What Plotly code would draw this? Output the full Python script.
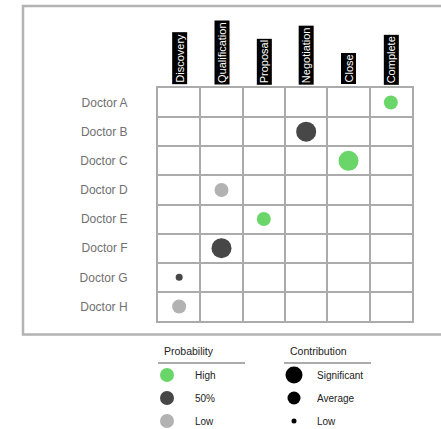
import plotly.graph_objects as go

# ---- data -------------------------------------------------------------
stages = ["Discovery", "Qualification", "Proposal", "Negotiation", "Close", "Complete"]
doctors = ["Doctor A", "Doctor B", "Doctor C", "Doctor D",
           "Doctor E", "Doctor F", "Doctor G", "Doctor H"]
doctor_stage = ["Complete", "Negotiation", "Close", "Qualification",
                "Proposal", "Qualification", "Discovery", "Discovery"]
doctor_probability = ["High", "50%", "High", "Low", "High", "50%", "50%", "Low"]
doctor_contribution = ["Average", "Significant", "Significant", "Average",
                       "Average", "Significant", "Low", "Average"]

probability_levels = ["High", "50%", "Low"]
contribution_levels = ["Significant", "Average", "Low"]

# ---- styles -------------------------------------------------------------
W, H = 441, 429
FONT = "Liberation Sans, Arial, sans-serif"
GRID = "#ababab"
prob_color = {"High": "#6ad66a", "50%": "#474747", "Low": "#b2b2b2"}
contrib_size = {"Significant": 20, "Average": 14, "Low": 7}
legend_contrib_size = {"Significant": 17, "Average": 13, "Low": 5}


def px_x(v):
    return v / W


def px_y(v):
    return 1 - v / H


fig = go.Figure()

# matrix dots
xs = [stages.index(s) + 0.5 for s in doctor_stage]
ys = [i + 0.5 for i in range(len(doctors))]
fig.add_trace(go.Scatter(
    x=xs, y=ys, mode="markers",
    marker=dict(size=[contrib_size[c] for c in doctor_contribution],
                color=[prob_color[p] for p in doctor_probability],
                opacity=1, line=dict(width=0)),
    hoverinfo="skip", showlegend=False, xaxis="x", yaxis="y",
))

# legend keys, drawn on a pixel-scaled overlay axis
leg_rows = [375, 398, 421]
fig.add_trace(go.Scatter(
    x=[167] * 3, y=leg_rows, mode="markers",
    marker=dict(size=14, color=[prob_color[p] for p in probability_levels],
                opacity=1, line=dict(width=0)),
    hoverinfo="skip", showlegend=False, xaxis="x2", yaxis="y2", cliponaxis=False,
))
fig.add_trace(go.Scatter(
    x=[294] * 3, y=leg_rows, mode="markers",
    marker=dict(size=[legend_contrib_size[c] for c in contribution_levels],
                color="#000000", opacity=1, line=dict(width=0)),
    hoverinfo="skip", showlegend=False, xaxis="x2", yaxis="y2", cliponaxis=False,
))
for x_text, levels in [(193, probability_levels), (315, contribution_levels)]:
    for yy, lbl in zip(leg_rows, levels):
        fig.add_annotation(x=x_text, y=yy, xref="x2", yref="y2", text=lbl, showarrow=False,
                           xanchor="left", yanchor="middle",
                           font=dict(family=FONT, size=10, color="#222"))
for x0, x1, title in [(158, 245, "Probability"), (284, 371, "Contribution")]:
    fig.add_annotation(x=x0 + 4, y=351, xref="x2", yref="y2", text=title, showarrow=False,
                       xanchor="left", yanchor="middle",
                       font=dict(family=FONT, size=10.5, color="#222"))
    fig.add_shape(type="line", xref="x2", yref="y2", x0=x0, x1=x1, y0=363, y1=363,
                  line=dict(color=GRID, width=2))

# stage headers: black tabs with vertical white text
for i, s in enumerate(stages):
    fig.add_annotation(x=i + 0.5, y=px_y(85), xref="x", yref="paper", text=s,
                       showarrow=False, textangle=-90, xanchor="center", yanchor="bottom",
                       bgcolor="black", borderpad=1,
                       font=dict(family=FONT, size=11, color="white"))

# outer frame
fig.add_shape(type="rect", xref="paper", yref="paper", layer="below",
              x0=px_x(23), x1=px_x(452), y0=px_y(334.5), y1=px_y(6),
              fillcolor="rgba(0,0,0,0)", line=dict(color="#b3b3b3", width=2.5))

fig.update_layout(
    width=W, height=H, margin=dict(l=0, r=0, t=0, b=0),
    paper_bgcolor="white", plot_bgcolor="rgba(0,0,0,0)",
    xaxis=dict(domain=[px_x(158), px_x(412)], range=[0, len(stages)],
               showticklabels=False, ticks="", zeroline=False,
               showgrid=True, tick0=0, dtick=1, gridcolor=GRID, gridwidth=2,
               showline=True, mirror=True, linecolor=GRID, linewidth=2, fixedrange=True),
    yaxis=dict(domain=[px_y(321), px_y(88)], range=[len(doctors), 0],
               tickvals=ys, ticktext=doctors, ticks="", showgrid=False, zeroline=False,
               ticklabelstandoff=26,
               tickfont=dict(family=FONT, size=12, color="#707070"),
               minor=dict(tick0=0, dtick=1, showgrid=True, gridcolor=GRID, gridwidth=2),
               showline=True, mirror=True, linecolor=GRID, linewidth=2, fixedrange=True),
    xaxis2=dict(domain=[0, 1], range=[0, W], visible=False, fixedrange=True),
    yaxis2=dict(domain=[0, 1], range=[H, 0], visible=False, fixedrange=True),
)

fig.write_html("out.html")
